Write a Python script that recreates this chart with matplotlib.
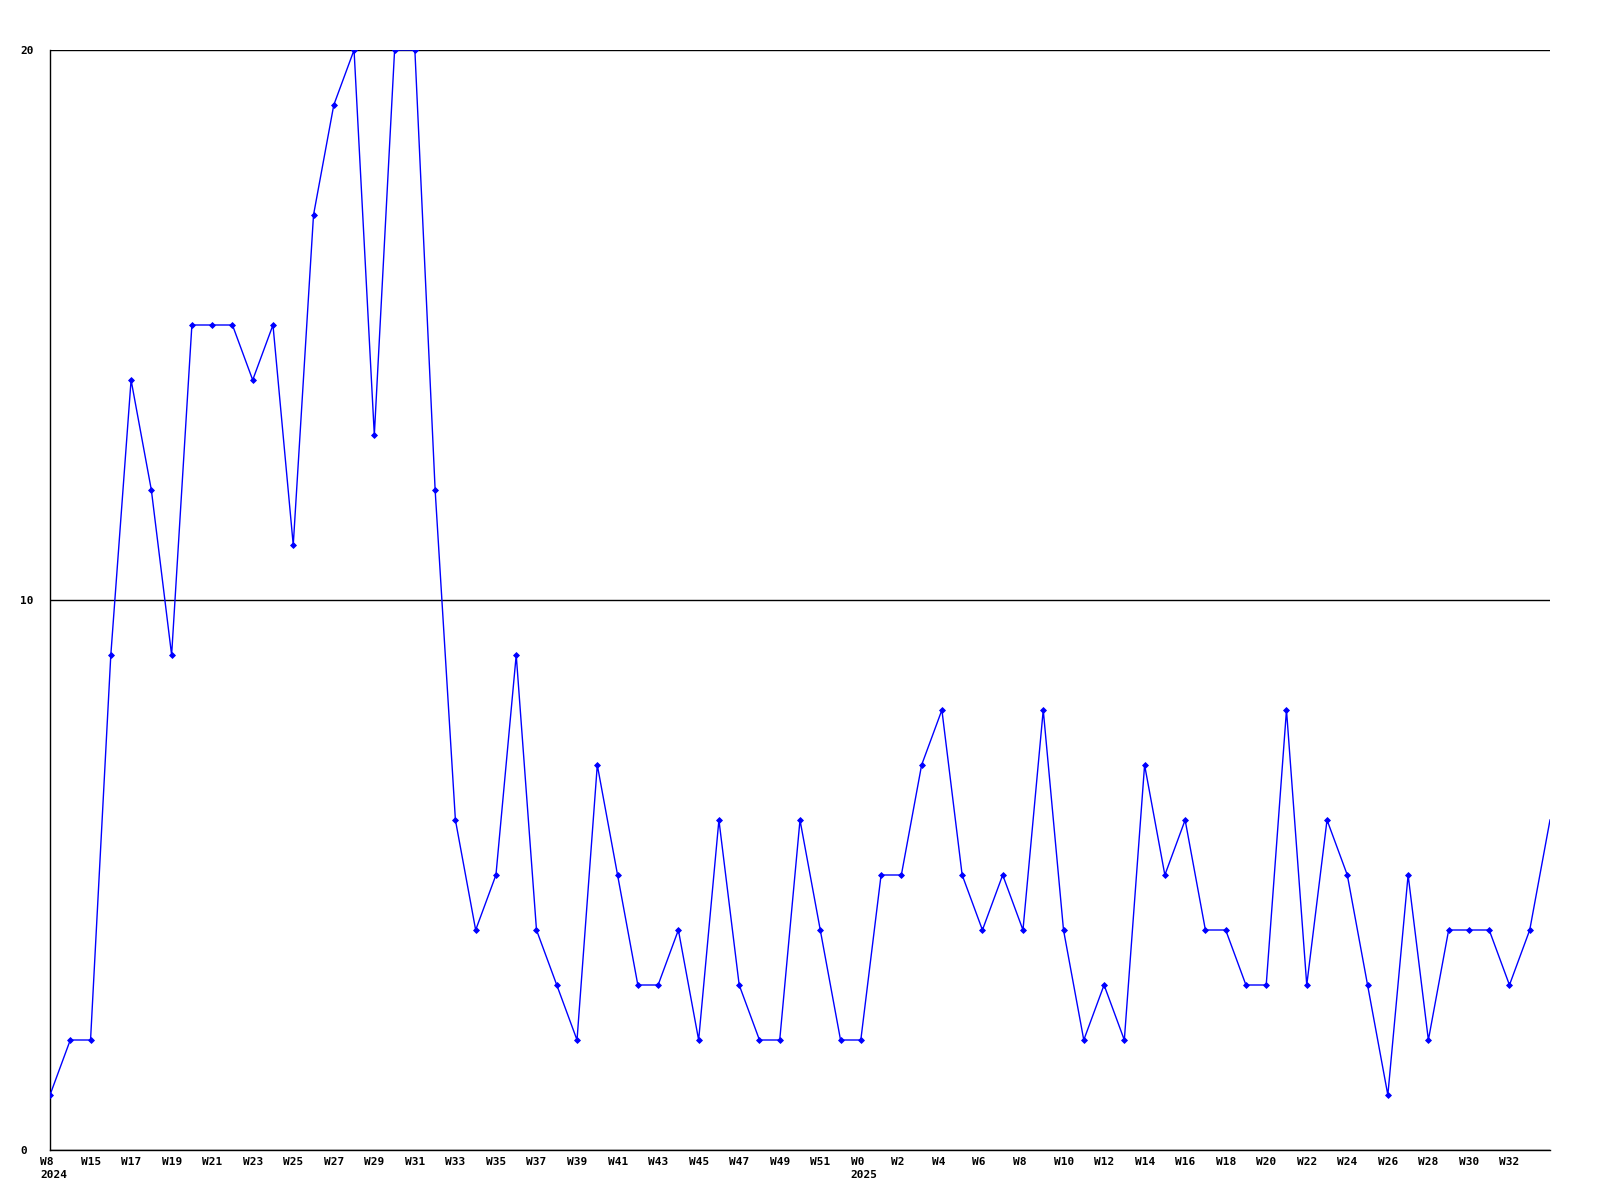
import matplotlib.pyplot as plt
import matplotlib.transforms as mtransforms

# weekly counts, one value per point along the x axis
counts = [1, 2, 2, 9, 14, 12, 9, 15, 15, 15, 14, 15, 11, 17, 19, 20, 13, 20, 20, 12,
          6, 4, 5, 9, 4, 3, 2, 7, 5, 3, 3, 4, 2, 6, 3, 2, 2, 6, 4, 2,
          2, 5, 5, 7, 8, 5, 4, 5, 4, 8, 4, 2, 3, 2, 7, 5, 6, 4, 4, 3,
          3, 8, 3, 6, 5, 3, 1, 5, 2, 4, 4, 4, 3, 4, 6]

# labels shown on every second point
week_labels = ["W8\n2024", "W15", "W17", "W19", "W21", "W23", "W25", "W27", "W29", "W31",
               "W33", "W35", "W37", "W39", "W41", "W43", "W45", "W47", "W49", "W51",
               "W0\n2025", "W2", "W4", "W6", "W8", "W10", "W12", "W14", "W16", "W18",
               "W20", "W22", "W24", "W26", "W28", "W30", "W32"]

y_ticks = [0, 10, 20]

fig = plt.figure(figsize=(16, 12), dpi=100, facecolor="white")
ax = fig.add_axes([50 / 1600, 1 - 1150 / 1200, 1500 / 1600, 1100 / 1200])

x = list(range(len(counts)))
# last point sits on the clipped right edge, no marker there
ax.plot(x, counts, color="#0000ff", linewidth=1.0, marker="D", markersize=3,
        markeredgewidth=0.6, markevery=slice(0, len(counts) - 1), zorder=3)

ax.set_xlim(0, len(counts) - 1)
ax.set_ylim(0, 20)

# horizontal reference lines
ax.set_yticks(y_ticks)
ax.set_yticklabels([str(v) for v in y_ticks])
ax.yaxis.grid(True, color="black", linewidth=1.0)
ax.set_axisbelow(True)

ax.set_xticks(x[::2][:len(week_labels)])
ax.set_xticklabels(week_labels)

for side in ["top", "right"]:
    ax.spines[side].set_visible(False)
for side in ["left", "bottom"]:
    ax.spines[side].set_color("black")
    ax.spines[side].set_linewidth(1.0)

ax.tick_params(axis="both", length=0)
ax.tick_params(axis="y", pad=30 / 1.389)
ax.tick_params(axis="x", pad=5)

for lbl in ax.get_yticklabels():
    lbl.set_fontfamily("DejaVu Sans Mono")
    lbl.set_fontweight("bold")
    lbl.set_fontsize(8)
    lbl.set_horizontalalignment("left")

shift = mtransforms.ScaledTranslation(-10 / 100, 0, fig.dpi_scale_trans)
for lbl in ax.get_xticklabels():
    lbl.set_fontfamily("DejaVu Sans Mono")
    lbl.set_fontweight("bold")
    lbl.set_fontsize(8)
    lbl.set_horizontalalignment("left")
    lbl.set_multialignment("left")
    lbl.set_linespacing(1.4)
    lbl.set_transform(lbl.get_transform() + shift)

fig.savefig("out.png", dpi=100, facecolor="white")
